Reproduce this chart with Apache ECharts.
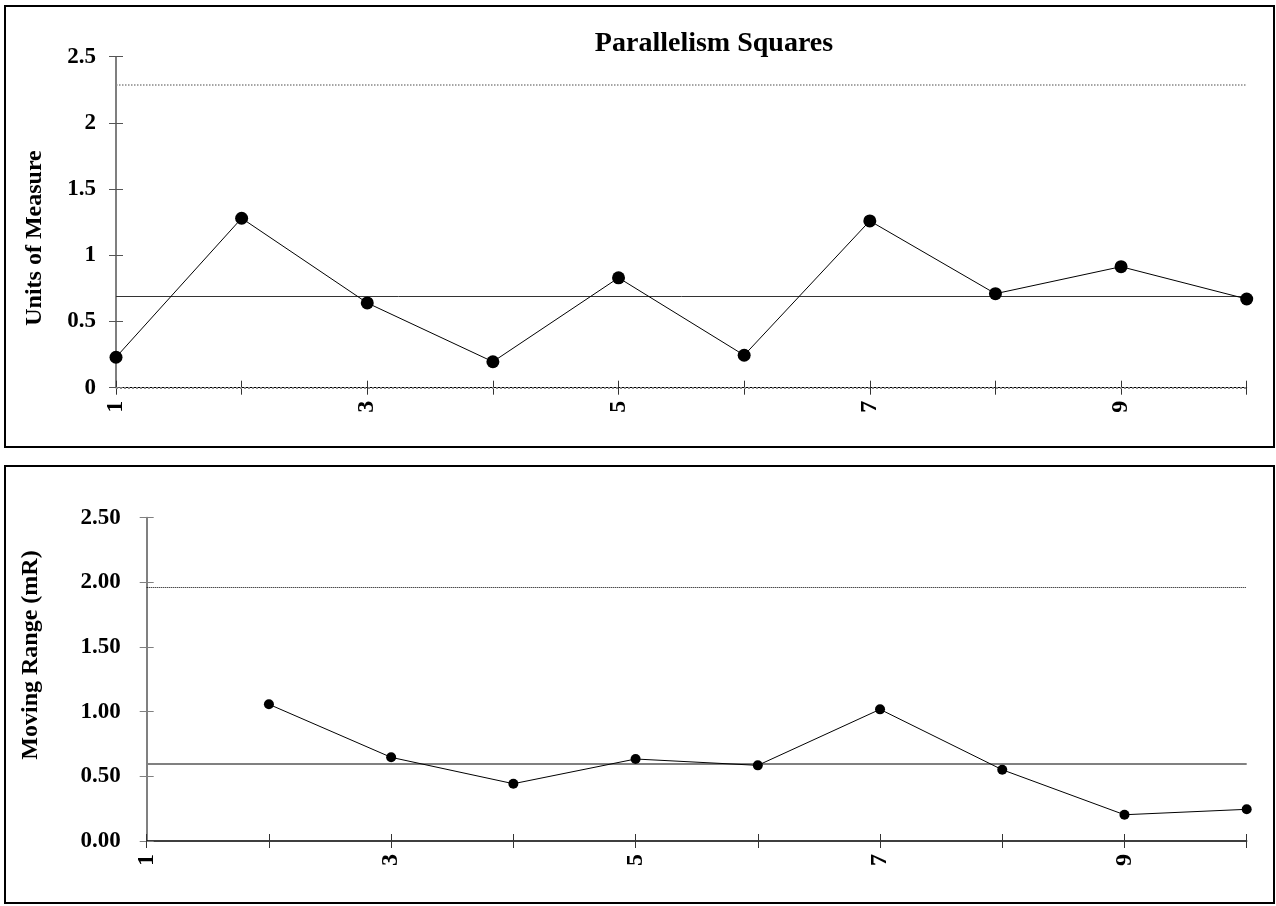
<!DOCTYPE html>
<html>
<head>
<meta charset="utf-8">
<script src="https://cdn.jsdelivr.net/npm/echarts@6/dist/echarts.min.js"></script>
<style>
html,body{margin:0;padding:0;background:#fff;}
#chart{width:1276px;height:906px;}
</style>
</head>
<body>
<div id="chart"></div>
<script>
// ---- data ----
const categories = ['1','2','3','4','5','6','7','8','9','10'];
const individualValues = [0.23, 1.28, 0.64, 0.196, 0.83, 0.245, 1.26, 0.71, 0.914, 0.67];
const movingRanges = [null, 1.057, 0.647, 0.443, 0.634, 0.585, 1.018, 0.551, 0.203, 0.245];
const xCenterLine = 0.695;
const xUpperLimit = 2.29;
const xLowerLimit = 0;
const mrCenterLine = 0.598;
const mrUpperLimit = 1.955;
const chartTitle = 'Parallelism Squares';
const topAxisName = 'Units of Measure';
const bottomAxisName = 'Moving Range (mR)';

const FONT = '"Liberation Serif", "Times New Roman", serif';

const chart = echarts.init(document.getElementById('chart'));

function xAxes(gridIndex, lineColor, lineWidth) {
  return [
    {
      gridIndex, type: 'category', data: categories, boundaryGap: false, position: 'bottom',
      axisLine: { show: true, lineStyle: { color: lineColor, width: lineWidth } },
      axisTick: { show: true, inside: false, length: 7, interval: 0, lineStyle: { color: '#333', width: 1 } },
      axisLabel: { show: true, interval: 1, rotate: 90, margin: 13, fontFamily: FONT, fontWeight: 'bold', fontSize: 24, color: '#000' },
      splitLine: { show: false }
    },
    {
      gridIndex, type: 'category', data: categories, boundaryGap: false, position: 'bottom',
      axisLine: { show: false },
      axisTick: { show: true, inside: true, length: 7, interval: 0, lineStyle: { color: '#333', width: 1 } },
      axisLabel: { show: false },
      splitLine: { show: false }
    }
  ];
}
function yAxes(gridIndex, lineColor, lineWidth, margin, fmt) {
  return [
    {
      gridIndex, type: 'value', min: 0, max: 2.5, interval: 0.5, position: 'left',
      axisLine: { show: true, lineStyle: { color: lineColor, width: lineWidth } },
      axisTick: { show: true, inside: false, length: 7, lineStyle: { color: lineColor, width: 1 } },
      axisLabel: { show: true, margin: margin, fontFamily: FONT, fontWeight: 'bold', fontSize: 23, color: '#000', formatter: fmt },
      splitLine: { show: false }
    },
    {
      gridIndex, type: 'value', min: 0, max: 2.5, interval: 0.5, position: 'left',
      axisLine: { show: false },
      axisTick: { show: true, inside: true, length: 7, lineStyle: { color: lineColor, width: 1 } },
      axisLabel: { show: false },
      splitLine: { show: false }
    }
  ];
}

const option = {
  animation: false,
  backgroundColor: '#fff',
  grid: [
    { left: 116, top: 56.7, width: 1130.7, height: 331 },
    { left: 146.7, top: 517.7, width: 1100, height: 323.3 }
  ],
  xAxis: [].concat(xAxes(0, '#000', 1), xAxes(1, '#000', 1.5)),
  yAxis: [].concat(
    yAxes(0, '#555', 1.5, 20, function (v) { return String(v); }),
    yAxes(1, '#808080', 2, 26, function (v) { return v.toFixed(2); })
  ),
  graphic: [
    { type: 'rect', shape: { x: 5, y: 6, width: 1269, height: 441 }, style: { fill: 'none', stroke: '#000', lineWidth: 2 }, z: 100 },
    { type: 'rect', shape: { x: 5, y: 466, width: 1269, height: 437 }, style: { fill: 'none', stroke: '#000', lineWidth: 2 }, z: 100 },
    { type: 'text', x: 714, y: 44, style: { text: chartTitle, font: 'bold 28px ' + FONT, fill: '#000', textAlign: 'center', textVerticalAlign: 'middle' } },
    { type: 'text', x: 35, y: 238, rotation: Math.PI / 2, style: { text: topAxisName, font: 'bold 24px ' + FONT, fill: '#000', textAlign: 'center', textVerticalAlign: 'middle' } },
    { type: 'text', x: 31, y: 655, rotation: Math.PI / 2, style: { text: bottomAxisName, font: 'bold 24px ' + FONT, fill: '#000', textAlign: 'center', textVerticalAlign: 'middle' } }
  ],
  series: [
    {
      type: 'line', xAxisIndex: 0, yAxisIndex: 0, data: individualValues,
      symbol: 'circle', symbolSize: 13, itemStyle: { color: '#000' },
      lineStyle: { color: '#000', width: 1 }, z: 5,
      markLine: {
        silent: true, symbol: ['none', 'none'], label: { show: false },
        data: [
          { yAxis: xCenterLine, lineStyle: { color: '#333', width: 1, type: 'solid' } },
          { yAxis: xUpperLimit, lineStyle: { color: '#888', width: 1.5, type: 'dotted' } },
          { yAxis: xLowerLimit, lineStyle: { color: '#888', width: 2, type: 'dotted' } }
        ]
      }
    },
    {
      type: 'line', xAxisIndex: 2, yAxisIndex: 2, data: movingRanges,
      symbol: 'circle', symbolSize: 10, itemStyle: { color: '#000' },
      lineStyle: { color: '#000', width: 1 }, z: 5, connectNulls: false,
      markLine: {
        silent: true, symbol: ['none', 'none'], label: { show: false },
        data: [
          { yAxis: mrCenterLine, lineStyle: { color: '#808080', width: 2, type: 'solid' } },
          { yAxis: mrUpperLimit, lineStyle: { color: '#000', width: 1, type: 'dotted' } }
        ]
      }
    }
  ]
};
chart.setOption(option);
</script>
</body>
</html>
